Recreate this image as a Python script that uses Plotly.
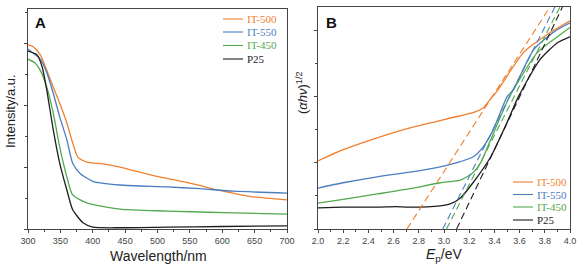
import plotly.graph_objects as go
from plotly.subplots import make_subplots

# ---------------- Panel A data (wavelength nm, intensity a.u.) ----------------
wl_500 = [300, 308, 319, 329, 339, 349, 360, 369, 377, 391, 416, 442, 499, 550, 601, 647, 700]
a_500 = [2.97, 2.94, 2.81, 2.56, 2.29, 2.03, 1.71, 1.39, 1.16, 1.08, 1.05, 1.00, 0.85, 0.74, 0.61, 0.52, 0.47]

wl_550 = [300, 319, 329, 339, 349, 360, 369, 380, 400, 442, 514, 566, 617, 700]
a_550 = [2.90, 2.74, 2.52, 2.19, 1.81, 1.44, 1.06, 0.90, 0.77, 0.71, 0.68, 0.65, 0.61, 0.58]

wl_450 = [300, 311, 319, 329, 339, 349, 360, 369, 391, 442, 514, 617, 700]
a_450 = [2.74, 2.68, 2.56, 2.29, 1.87, 1.32, 0.84, 0.55, 0.42, 0.32, 0.29, 0.26, 0.24]

wl_p25 = [300, 314, 322, 329, 339, 349, 360, 369, 385, 400, 442, 514, 600, 700]
a_p25 = [2.87, 2.81, 2.61, 2.24, 1.60, 1.06, 0.63, 0.31, 0.10, 0.03, 0.02, 0.03, 0.04, 0.05]

# ---------------- Panel B data (Ep eV, (ahv)^1/2) ----------------
e_500 = [2.0, 2.2, 2.47, 2.73, 2.97, 3.05, 3.23, 3.31, 3.37, 3.43, 3.63, 3.84, 4.0]
b_500 = [1.03, 1.20, 1.38, 1.53, 1.64, 1.68, 1.76, 1.83, 1.97, 2.11, 2.67, 2.97, 3.15]

e_550 = [2.0, 2.2, 2.47, 2.73, 2.97, 3.13, 3.23, 3.31, 3.39, 3.50, 3.55, 3.71, 3.87, 4.0]
b_550 = [0.62, 0.70, 0.79, 0.86, 0.94, 1.02, 1.09, 1.24, 1.50, 2.00, 2.11, 2.71, 2.98, 3.12]

e_450 = [2.0, 2.2, 2.47, 2.73, 2.97, 3.13, 3.23, 3.29, 3.37, 3.52, 3.74, 3.90, 4.0]
b_450 = [0.39, 0.45, 0.53, 0.61, 0.70, 0.74, 0.85, 1.00, 1.35, 2.00, 2.67, 2.91, 3.05]

e_p25 = [2.0, 2.2, 2.47, 2.62, 2.73, 2.97, 3.05, 3.13, 3.23, 3.37, 3.50, 3.59, 3.76, 3.90, 4.0]
b_p25 = [0.32, 0.33, 0.33, 0.34, 0.33, 0.35, 0.38, 0.47, 0.70, 1.09, 1.61, 2.00, 2.56, 2.82, 2.91]

# tangent (Tauc) lines: two end points each
t_500_e = [2.706, 3.841]
t_500_y = [0.0, 3.36]
t_550_e = [2.99, 3.88]
t_550_y = [0.0, 3.36]
t_450_e = [3.02, 3.92]
t_450_y = [0.0, 3.36]
t_p25_e = [3.10, 3.94]
t_p25_y = [0.0, 3.36]

names = ["IT-500", "IT-550", "IT-450", "P25"]
colors = ["#f07f2e", "#4a7ec0", "#52a94f", "#1e1e1e"]

W, H = 581, 272
fig = make_subplots(rows=1, cols=2)

A_sets = [(wl_500, a_500), (wl_550, a_550), (wl_450, a_450), (wl_p25, a_p25)]
B_sets = [(e_500, b_500), (e_550, b_550), (e_450, b_450), (e_p25, b_p25)]
T_sets = [(t_500_e, t_500_y), (t_550_e, t_550_y), (t_450_e, t_450_y), (t_p25_e, t_p25_y)]

for n, c, (x, y) in zip(names, colors, A_sets):
    fig.add_trace(go.Scatter(x=x, y=y, mode="lines", name=n, showlegend=False,
                             line=dict(color=c, width=1.3, shape="spline", smoothing=0.6)), row=1, col=1)
for n, c, (x, y) in zip(names, colors, B_sets):
    fig.add_trace(go.Scatter(x=x, y=y, mode="lines", name=n, showlegend=False,
                             line=dict(color=c, width=1.3, shape="spline", smoothing=0.6)), row=1, col=2)
for n, c, (x, y) in zip(names, colors, T_sets):
    fig.add_trace(go.Scatter(x=x, y=y, mode="lines", name=n + " fit", showlegend=False,
                             line=dict(color=c, width=1.1, dash="7px,4px")), row=1, col=2)

axis_common = dict(showline=True, linecolor="#444", linewidth=1, mirror=True, showgrid=False, zeroline=False,
                   automargin=False, ticks="outside", ticklen=3, tickcolor="#444",
                   tickfont=dict(family="Liberation Sans", size=9, color="#444"))
fig.update_xaxes(axis_common)
fig.update_yaxes(axis_common)

title_font = dict(family="Liberation Sans", size=13, color="#222")

annotations = [
    dict(text="<b>A</b>", x=33 / W, y=1 - 22 / H, xanchor="left", yanchor="middle",
         font=dict(family="Liberation Sans", size=15, color="#111")),
    dict(text="<b>B</b>", x=324 / W, y=1 - 22 / H, xanchor="left", yanchor="middle",
         font=dict(family="Liberation Sans", size=15, color="#111")),
    dict(text="Intensity/a.u.", x=10 / W, y=1 - 111 / H, textangle=-90, xanchor="center", yanchor="middle",
         font=title_font),
    dict(text="(<i>αhν</i>)<sup>1/2</sup>", x=302 / W, y=1 - 93 / H, textangle=-90, xanchor="center",
         yanchor="middle", font=title_font),
    dict(text="Wavelength/nm", x=158 / W, y=1 - 256 / H, xanchor="center", yanchor="middle",
         font=dict(family="Liberation Sans", size=14, color="#222")),
    dict(text="<i>E</i><sub>p</sub>/eV", x=444 / W, y=1 - 255 / H, xanchor="center", yanchor="middle",
         font=dict(family="Liberation Sans", size=14, color="#222")),
]
shapes = []

# legends drawn as key lines + coloured serif labels
leg_A = dict(x0=223, x1=243, tx=245, rows=[19, 32, 45.5, 59])
leg_B = dict(x0=513, x1=533, tx=535, rows=[182, 194.5, 207, 220])
for leg in (leg_A, leg_B):
    for n, c, yy in zip(names, colors, leg["rows"]):
        shapes.append(dict(type="line", xref="paper", yref="paper", x0=leg["x0"] / W, x1=leg["x1"] / W,
                           y0=1 - yy / H, y1=1 - yy / H, line=dict(color=c, width=1.1)))
        annotations.append(dict(text=n, x=leg["tx"] / W, y=1 - yy / H, xanchor="left", yanchor="middle",
                                font=dict(family="Liberation Serif", size=11, color=c)))

for a in annotations:
    a.update(xref="paper", yref="paper", showarrow=False)

fig.update_layout(
    width=W, height=H, margin=dict(l=0, r=0, t=0, b=0),
    paper_bgcolor="white", plot_bgcolor="white", showlegend=False,
    xaxis=dict(domain=[28 / W, 287 / W], range=[300, 700], dtick=50, tick0=300,
               minor=dict(ticks="outside", ticklen=2, dtick=25, tickcolor="#444")),
    yaxis=dict(domain=[43 / H, 263 / H], range=[0, 3.55], dtick=1, showticklabels=False,
               minor=dict(ticks="outside", ticklen=2, dtick=0.5, tickcolor="#444")),
    xaxis2=dict(domain=[318 / W, 570 / W], range=[2.0, 4.0], dtick=0.2, tickformat=".1f",
                minor=dict(ticks="outside", ticklen=2, dtick=0.1, tickcolor="#444")),
    yaxis2=dict(domain=[43 / H, 265 / H], range=[0, 3.36], dtick=1, showticklabels=False,
                minor=dict(ticks="outside", ticklen=2, dtick=0.5, tickcolor="#444")),
    annotations=annotations,
    shapes=shapes,
)

fig.write_html("out.html", config={"displayModeBar": False},
               post_script="document.body.style.margin='0px';document.body.style.overflow='hidden';")
